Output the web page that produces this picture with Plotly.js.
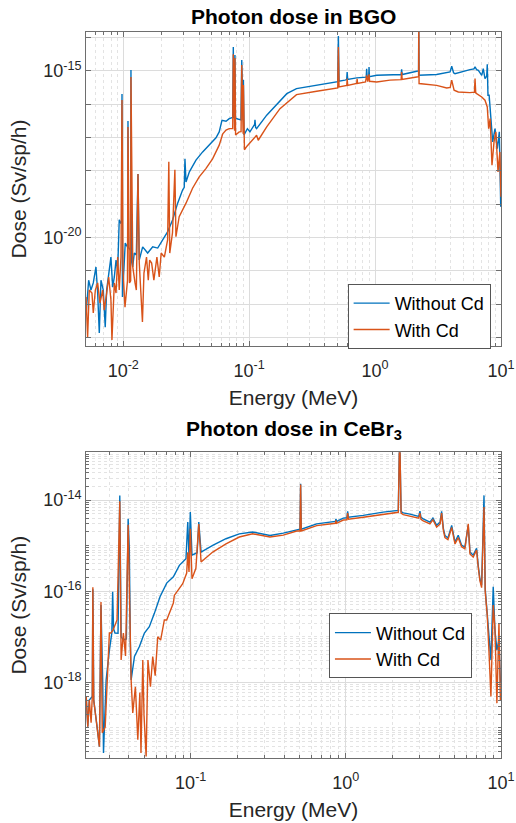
<!DOCTYPE html>
<html>
<head>
<meta charset="utf-8">
<script src="https://cdn.plot.ly/plotly-3.0.1.min.js"></script>
<style>html,body{margin:0;padding:0;background:#fff;}#chart{width:516px;height:823px;}</style>
</head>
<body>
<div id="chart"></div>
<script>
// ---------- Photon dose in BGO ----------
const energyBGO_noCd = [0.00506,0.00531,0.00554,0.00578,0.00607,0.00626,0.00645,0.00665,0.00694,0.00719,0.00738,0.00774,0.00798,0.00824,0.00849,0.00876,0.00903,0.00929,0.00953,0.0097,0.00977,0.00985,0.01037,0.01085,0.0109,0.011,0.01145,0.01151,0.0116,0.01188,0.01223,0.0127,0.01309,0.01339,0.01426,0.01562,0.01713,0.01877,0.02056,0.02253,0.02468,0.02704,0.02963,0.0305,0.0309,0.0315,0.0335,0.0378,0.0427,0.0482,0.0545,0.0578,0.0608,0.0655,0.0694,0.074,0.0748,0.0756,0.0766,0.0771,0.0778,0.0812,0.086,0.0873,0.0885,0.0895,0.09,0.091,0.0968,0.1014,0.1105,0.1112,0.1125,0.1145,0.1378,0.1756,0.199,0.2376,0.3436,0.4955,0.505,0.511,0.517,0.577,0.595,0.6,0.606,0.714,0.85,0.857,0.865,0.89,0.895,0.902,1.03,1.313,1.61,1.625,1.64,2.14,2.215,2.223,2.235,3.08,3.94,4.06,4.2,4.31,5.01,5.67,6.1,6.22,6.4,6.61,7.03,7.23,7.46,7.7,7.78,7.88,8.05,8.28,8.59,8.96,9.35,9.7,9.95];
const doseBGO_noCd = [4.7e-23,5.2e-22,2.63e-22,4.3e-22,1.3e-21,2.14e-22,1.35e-23,5.2e-22,2.63e-22,2.0e-23,2.63e-22,1.05e-21,2.57e-21,3.2e-22,6.5e-22,2.09e-21,1.05e-21,3.4e-20,2.75e-20,3e-20,2.04e-16,1.62e-22,6.8e-21,5e-21,3.16e-17,5e-21,4e-21,1.07e-15,2e-21,1.3e-21,3.4e-21,3e-21,8e-19,2.09e-21,5.2e-21,3.4e-21,5.2e-21,4.8e-21,8.4e-21,1.5e-20,3.4e-20,1.07e-19,2.69e-19,3.2e-19,2.3e-18,4.6e-19,9.3e-19,2.1e-18,3.7e-18,5.9e-18,9.8e-18,1.48e-17,3.3e-17,3.1e-17,3.7e-17,4.0e-17,5.2e-15,4.0e-17,3.8e-17,3.0e-15,3.8e-17,3.6e-17,3.4e-17,2.14e-15,3.4e-17,3.4e-17,5.4e-16,1.2e-17,1.85e-17,1.48e-17,2.5e-17,3.4e-17,2.0e-17,1.85e-17,4.7e-17,1.32e-16,2.08e-16,2.94e-16,3.7e-16,4.68e-16,4.8e-16,1.12e-14,4.9e-16,5.3e-16,5.5e-16,9.3e-16,5.6e-16,6.2e-16,6.5e-16,1.17e-15,6.6e-16,6.7e-16,1.32e-15,6.7e-16,7.4e-16,7.6e-16,7.8e-16,1.12e-15,7.8e-16,9.8e-16,1.0e-15,3e-14,7.4e-16,7.8e-16,9.3e-16,1.38e-15,8.8e-16,8.3e-16,9.8e-16,1.1e-15,1.15e-15,1.32e-15,1.1e-15,1.05e-15,7.4e-16,1.17e-15,5.9e-16,7e-16,1.59e-15,1.86e-16,1.86e-16,3.7e-17,7.4e-18,1.85e-17,4.6e-18,1.48e-17,8.3e-20];

const energyBGO_Cd = [0.00506,0.00521,0.00537,0.00564,0.00578,0.006,0.00626,0.00653,0.00686,0.00706,0.00738,0.00766,0.00798,0.00813,0.00849,0.00876,0.00903,0.00929,0.00959,0.00977,0.00995,0.01032,0.0108,0.0109,0.0112,0.01145,0.01151,0.0119,0.0124,0.0127,0.01309,0.0134,0.0142,0.0146,0.0153,0.0158,0.0162,0.0168,0.0175,0.0185,0.0193,0.02,0.0212,0.0225,0.023,0.0234,0.0246,0.0257,0.0262,0.0278,0.0315,0.0355,0.0401,0.0453,0.0512,0.0578,0.0617,0.0655,0.0694,0.074,0.0748,0.0756,0.0766,0.0771,0.078,0.0833,0.0862,0.0873,0.0885,0.0895,0.09,0.0917,0.096,0.1035,0.1105,0.1145,0.118,0.1378,0.1756,0.2376,0.3436,0.4955,0.505,0.511,0.517,0.596,0.6,0.606,0.714,0.72,0.726,0.84,0.857,0.875,0.895,0.905,1.03,1.313,1.61,1.625,1.64,2.14,2.215,2.223,2.235,3.08,3.71,3.95,4.06,4.24,4.58,5.67,6.15,6.22,6.3,6.41,7.03,7.46,7.78,7.98,8.2,8.48,8.8,9.1,9.47,9.8,9.98];
const doseBGO_Cd = [1.62e-22,1.02e-23,2.63e-22,2.14e-22,5.4e-23,2.63e-22,4.3e-22,1.07e-22,2.63e-22,6.6e-23,2.14e-22,6.5e-22,1.32e-22,8.3e-24,4.3e-22,2.14e-22,2.57e-21,2.63e-22,2.57e-21,1.35e-16,1.05e-21,8.1e-23,5e-22,2.09e-17,4.3e-22,5e-22,6.6e-16,1.3e-21,4.3e-22,2.63e-22,8.1e-19,1.7e-21,2.9e-23,8.5e-22,2.57e-21,5.2e-22,2.09e-21,1.7e-21,5.2e-22,2.57e-21,6.5e-22,3.4e-21,2.57e-21,8.4e-21,1.86e-18,3.4e-21,1.38e-20,1.07e-18,1.05e-20,4.2e-20,1.07e-19,3.0e-19,6.6e-19,1.17e-18,2.3e-18,5.9e-18,1.3e-17,1.67e-17,1.85e-17,1.85e-17,3.2e-15,1.7e-17,1.6e-17,2.45e-15,1.2e-17,1.48e-17,1.5e-17,1.51e-15,1.4e-17,1.3e-17,3.8e-16,4.3e-18,5.5e-18,7.4e-18,1.0e-17,1.17e-17,8.3e-18,2.09e-17,7.4e-17,1.94e-16,2.45e-16,3.09e-16,3.1e-16,5.2e-15,3.3e-16,3.7e-16,5.9e-16,3.7e-16,4.2e-16,5.8e-16,4.2e-16,4.68e-16,7.4e-16,4.8e-16,7.9e-16,4.9e-16,4.68e-16,5.3e-16,5.5e-16,9.3e-16,5.6e-16,6.6e-16,6.7e-16,3e-14,4.2e-16,3.7e-16,3.09e-16,3.2e-16,5.3e-16,2.64e-16,2.34e-16,2.24e-16,2.3e-16,5.9e-16,2.2e-16,2.09e-16,1.66e-16,1.32e-16,8.3e-17,1.85e-17,3.7e-17,1.47e-18,7.4e-18,1.48e-17,9.3e-19,3.7e-18,1.66e-19];

// ---------- Photon dose in CeBr3 ----------
const energyCeBr3_noCd = [0.0212,0.0217,0.0222,0.0232,0.0234,0.0237,0.0246,0.0258,0.0264,0.0271,0.0274,0.0285,0.0299,0.031,0.0314,0.0318,0.0325,0.034,0.0349,0.0356,0.0368,0.0385,0.0395,0.0402,0.0408,0.0413,0.0434,0.0467,0.0503,0.0541,0.0583,0.0634,0.07,0.0773,0.0845,0.0932,0.0957,0.0975,0.0994,0.1019,0.11,0.1127,0.1166,0.1386,0.1688,0.2056,0.2508,0.3243,0.395,0.4822,0.506,0.511,0.516,0.6486,0.855,0.8634,0.872,0.962,1.015,1.027,1.04,1.294,1.741,2.177,2.223,2.27,2.344,2.589,2.95,3.002,3.05,3.153,3.482,3.64,3.845,4.05,4.142,4.25,4.35,4.55,4.81,5.05,5.3,5.57,5.85,6.15,6.31,6.62,6.96,7.13,7.31,7.5,7.77,7.91,8.15,8.36,8.61,8.91,9.14,9.41,9.7,9.91];
const doseCeBr3_noCd = [4.9e-19,1.07e-19,4.1e-19,4.9e-19,1.1e-16,4.1e-19,1.5e-19,3.9e-20,5e-17,9.6e-19,2.83e-20,1.13e-18,5.1e-18,1.2e-17,9.8e-17,1.5e-17,1.21e-17,1.2e-17,1.27e-14,1.0e-17,8.5e-18,9e-18,3.9e-15,8.5e-16,8e-18,1.13e-18,3.7e-18,6.1e-18,1.21e-17,1.67e-17,3.27e-17,7.6e-17,1.51e-16,2.08e-16,3.7e-16,5.16e-16,3.3e-15,5.6e-16,5.46e-15,6.2e-16,7e-16,3.3e-15,7.24e-16,1.02e-15,1.42e-15,1.82e-15,1.99e-15,1.68e-15,1.89e-15,2.28e-15,2.3e-15,2.28e-14,2.3e-15,3.02e-15,3.4e-15,3.89e-15,3.4e-15,4.03e-15,4.1e-15,5.65e-15,4.2e-15,4.62e-15,5.46e-15,5.94e-15,3e-13,5.6e-15,5.26e-15,4.93e-15,4.4e-15,5.7e-15,4.2e-15,3.89e-15,3.3e-15,4.03e-15,2.79e-15,3.3e-15,5.65e-15,2.4e-15,1.68e-15,1.47e-15,2.79e-15,1.2e-15,1.7e-15,1.03e-15,9.3e-16,2.8e-15,7.24e-16,6.2e-16,8.8e-16,3.7e-16,1.88e-16,1.35e-16,1.27e-14,1.14e-16,3.5e-17,8.5e-18,3.1e-18,1.26e-16,1.41e-17,5.1e-18,8.5e-18,1e-18];

const energyCeBr3_Cd = [0.0212,0.0217,0.0222,0.0228,0.0232,0.0234,0.0237,0.0246,0.0258,0.0264,0.0269,0.0281,0.0299,0.0306,0.0316,0.0335,0.0349,0.0356,0.0368,0.038,0.0395,0.0413,0.0423,0.044,0.0456,0.047,0.0478,0.0491,0.05,0.0516,0.053,0.055,0.0569,0.059,0.0613,0.064,0.0676,0.07,0.0773,0.0784,0.0854,0.0888,0.0942,0.0957,0.0975,0.0994,0.1019,0.108,0.1127,0.1166,0.1386,0.1688,0.2056,0.2508,0.3243,0.395,0.4822,0.506,0.511,0.516,0.6486,0.855,0.8634,0.872,0.962,1.015,1.027,1.04,1.294,1.741,2.177,2.223,2.27,2.344,2.589,2.95,3.002,3.05,3.153,3.482,3.64,3.845,4.05,4.142,4.25,4.35,4.55,4.81,5.05,5.3,5.57,5.85,6.15,6.31,6.62,6.96,7.13,7.31,7.5,7.77,7.91,8.15,8.36,8.61,8.91,9.14,9.41,9.7,9.91];
const doseCeBr3_Cd = [4.9e-19,1.07e-19,4.1e-19,1.3e-19,4.9e-19,1.23e-16,4.1e-19,1.5e-19,3.9e-20,5.8e-17,7.8e-20,1.05e-19,1.21e-17,1.21e-17,1.41e-17,2.34e-17,9.4e-15,3.1e-18,1.21e-17,3.8e-18,2.87e-15,1.13e-18,2.13e-19,8.0e-19,5.5e-20,6e-19,2.83e-20,3.1e-18,1.9e-19,2.35e-20,3.1e-18,8e-19,3.7e-18,1.4e-18,1.0e-17,8.5e-18,2.34e-17,2.34e-17,5.5e-17,8.1e-17,1.26e-16,1.46e-16,2.5e-16,7.2e-16,2.64e-16,2.35e-15,1.88e-16,3.2e-16,3.0e-15,4.37e-16,7.24e-16,1.1e-15,1.55e-15,1.82e-15,1.55e-15,1.7e-15,2.1e-15,2.1e-15,2.2e-14,2.1e-15,2.75e-15,3.1e-15,3.6e-15,3.1e-15,3.65e-15,3.7e-15,5.2e-15,3.8e-15,4.2e-15,4.95e-15,5.4e-15,3e-13,5.2e-15,4.8e-15,4.5e-15,4.0e-15,5.2e-15,3.8e-15,3.5e-15,3.0e-15,3.7e-15,2.55e-15,3.0e-15,5.2e-15,2.2e-15,1.5e-15,1.35e-15,2.5e-15,1.1e-15,1.5e-15,9.5e-16,8.5e-16,3.02e-15,6.6e-16,5.6e-16,8.0e-16,3.4e-16,1.7e-16,1.2e-16,7.1e-15,1.0e-16,3e-17,5e-18,4.9e-19,5e-17,1.5e-17,3.5e-19,2e-17,4e-19];

// tick labels
const xTickValsTop = [0.01, 0.1, 1, 10];
const xTickTextTop = ['10<sup>-2</sup>', '10<sup>-1</sup>', '10<sup>0</sup>', '10<sup>1</sup>'];
const yTickValsTop = [1e-20, 1e-15];
const yTickTextTop = ['10<sup>-20</sup>', '10<sup>-15</sup>'];
const xTickValsBot = [0.1, 1, 10];
const xTickTextBot = ['10<sup>-1</sup>', '10<sup>0</sup>', '10<sup>1</sup>'];
const yTickValsBot = [1e-18, 1e-16, 1e-14];
const yTickTextBot = ['10<sup>-18</sup>', '10<sup>-16</sup>', '10<sup>-14</sup>'];

const BLUE = '#0072BD', ORANGE = '#D95319';
const FONT = 'Liberation Sans, Arial, Helvetica, sans-serif';
const AXC = '#262626';
const FRAME = '#6e6e6e';

const traces = [
  {x: energyBGO_noCd, y: doseBGO_noCd, xaxis: 'x', yaxis: 'y', mode: 'lines', name: 'Without Cd', legend: 'legend', line: {color: BLUE, width: 1.4}},
  {x: energyBGO_Cd, y: doseBGO_Cd, xaxis: 'x', yaxis: 'y', mode: 'lines', name: 'With Cd', legend: 'legend', line: {color: ORANGE, width: 1.4}},
  {x: energyCeBr3_noCd, y: doseCeBr3_noCd, xaxis: 'x2', yaxis: 'y2', mode: 'lines', name: 'Without Cd', legend: 'legend2', line: {color: BLUE, width: 1.4}},
  {x: energyCeBr3_Cd, y: doseCeBr3_Cd, xaxis: 'x2', yaxis: 'y2', mode: 'lines', name: 'With Cd', legend: 'legend2', line: {color: ORANGE, width: 1.4}}
];

function axisBase(extra) {
  return Object.assign({
    type: 'log', showline: true, linecolor: FRAME, linewidth: 1, mirror: 'ticks',
    ticks: 'inside', ticklen: 5, tickcolor: FRAME, tickwidth: 1,
    showgrid: true, gridcolor: '#dcdcdc', gridwidth: 1, zeroline: false,
    tickfont: {family: FONT, size: 18, color: AXC}, tickmode: 'array'
  }, extra);
}
const minorDigits = {dtick: 'D1', ticks: 'inside', ticklen: 3, tickcolor: FRAME, showgrid: true, gridcolor: '#e3e3e3', griddash: 'dot', gridwidth: 1};
const minorDecades = {dtick: 1, ticks: 'inside', ticklen: 5, tickcolor: FRAME, showgrid: true, gridcolor: '#dcdcdc', griddash: 'solid', gridwidth: 1};

const layout = {
  width: 516, height: 823,
  paper_bgcolor: '#ffffff', plot_bgcolor: '#ffffff',
  margin: {l: 86, r: 15, t: 32, b: 65},
  font: {family: FONT, color: AXC},
  showlegend: true,
  xaxis: axisBase({anchor: 'y', domain: [0, 1], range: [-2.296, 1], tickvals: xTickValsTop, ticktext: xTickTextTop,
    minor: minorDigits, ticklabelstandoff: 8,
    title: {text: 'Energy (MeV)', font: {family: FONT, size: 21, color: AXC}, standoff: 10}}),
  yaxis: axisBase({anchor: 'x', domain: [0.5675, 1], range: [-23.26, -13.83], tickvals: yTickValsTop, ticktext: yTickTextTop,
    minor: minorDecades,
    title: {text: 'Dose (Sv/sp/h)', font: {family: FONT, size: 21, color: AXC}, standoff: 10}}),
  xaxis2: axisBase({anchor: 'y2', domain: [0, 1], range: [-1.675, 1], tickvals: xTickValsBot, ticktext: xTickTextBot,
    minor: minorDigits, ticklabelstandoff: 8,
    title: {text: 'Energy (MeV)', font: {family: FONT, size: 21, color: AXC}, standoff: 10}}),
  yaxis2: axisBase({anchor: 'x2', domain: [0, 0.4211], range: [-19.66, -12.95], tickvals: yTickValsBot, ticktext: yTickTextBot,
    minor: minorDigits,
    title: {text: 'Dose (Sv/sp/h)', font: {family: FONT, size: 21, color: AXC}, standoff: 10}}),
  legend: {x: 0.975, xanchor: 'right', y: 0.5635, yanchor: 'bottom', bgcolor: '#ffffff', bordercolor: '#555555', borderwidth: 1,
    font: {family: FONT, size: 18, color: '#000000'}, tracegroupgap: 0, itemwidth: 36},
  legend2: {x: 0.930, xanchor: 'right', y: 0.1096, yanchor: 'bottom', bgcolor: '#ffffff', bordercolor: '#555555', borderwidth: 1,
    font: {family: FONT, size: 18, color: '#000000'}, tracegroupgap: 0, itemwidth: 36},
  annotations: [
    {text: '<b>Photon dose in BGO</b>', xref: 'paper', yref: 'paper', x: 0.5, y: 1.0207, xanchor: 'center', yanchor: 'middle', showarrow: false,
      font: {family: FONT, size: 21, color: '#000000'}},
    {text: '<b>Photon dose in CeBr<sub>3</sub></b>', xref: 'paper', yref: 'paper', x: 0.5, y: 0.4518, xanchor: 'center', yanchor: 'middle', showarrow: false,
      font: {family: FONT, size: 21, color: '#000000'}}
  ]
};

Plotly.newPlot('chart', traces, layout, {staticPlot: true, displayModeBar: false});
</script>
</body>
</html>
